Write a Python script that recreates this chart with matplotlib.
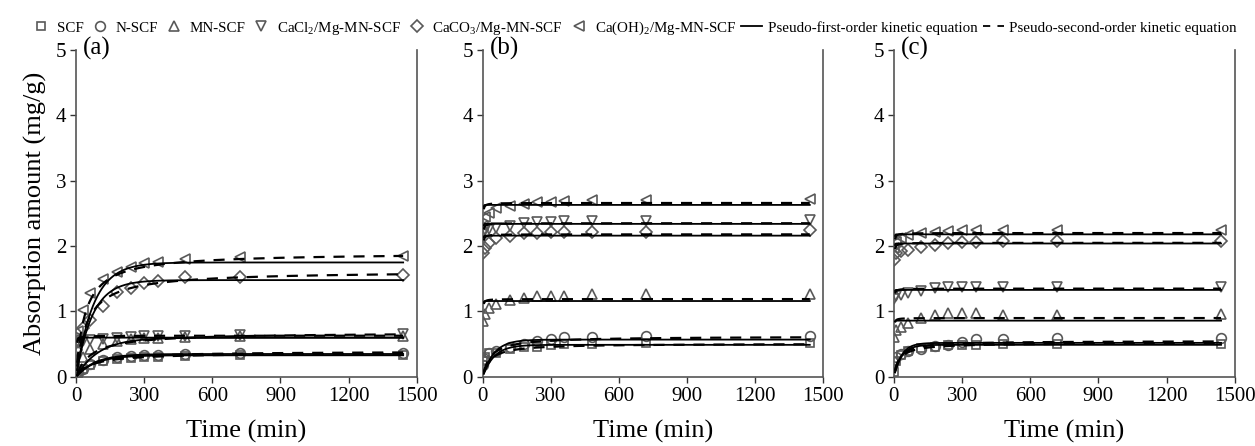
import numpy as np
import matplotlib
matplotlib.use("Agg")
import matplotlib.pyplot as plt
from matplotlib.lines import Line2D

plt.rcParams['font.family'] = ['Liberation Serif', 'DejaVu Serif']
plt.rcParams['mathtext.fontset'] = 'custom'
plt.rcParams['mathtext.rm'] = 'Liberation Serif'

# ---------------- data ----------------
time = [0, 10, 30, 60, 120, 180, 240, 300, 360, 480, 720, 1440]

series_names = ["SCF", "N-SCF", "MN-SCF", "CaCl$_2$/Mg-MN-SCF",
                "CaCO$_3$/Mg-MN-SCF", "Ca(OH)$_2$/Mg-MN-SCF"]
panel_labels = ["(a)", "(b)", "(c)"]

# panel (a)
a_scf    = [0.00, 0.05, 0.12, 0.18, 0.24, 0.27, 0.29, 0.30, 0.31, 0.32, 0.33, 0.34]
a_nscf   = [0.00, 0.06, 0.12, 0.20, 0.26, 0.30, 0.32, 0.33, 0.34, 0.35, 0.36, 0.37]
a_mnscf  = [0.02, 0.15, 0.30, 0.42, 0.50, 0.55, 0.58, 0.59, 0.60, 0.61, 0.62, 0.63]
a_cacl2  = [0.50, 0.52, 0.55, 0.57, 0.58, 0.60, 0.61, 0.62, 0.62, 0.63, 0.64, 0.65]
a_caco3  = [0.41, 0.55, 0.74, 0.87, 1.08, 1.30, 1.36, 1.43, 1.46, 1.52, 1.52, 1.56]
a_caoh2  = [0.03, 0.70, 1.03, 1.28, 1.50, 1.60, 1.68, 1.74, 1.76, 1.80, 1.84, 1.85]

# panel (b)
b_scf    = [0.25, 0.30, 0.36, 0.37, 0.42, 0.45, 0.46, 0.49, 0.50, 0.51, 0.52, 0.52]
b_nscf   = [0.18, 0.28, 0.36, 0.40, 0.46, 0.50, 0.55, 0.58, 0.61, 0.61, 0.62, 0.62]
b_mnscf  = [0.85, 0.96, 1.05, 1.12, 1.18, 1.20, 1.23, 1.24, 1.24, 1.26, 1.26, 1.26]
b_cacl2  = [2.20, 2.25, 2.26, 2.28, 2.30, 2.35, 2.37, 2.37, 2.38, 2.39, 2.39, 2.40]
b_caco3  = [1.90, 1.97, 2.05, 2.12, 2.16, 2.20, 2.20, 2.22, 2.22, 2.22, 2.22, 2.25]
b_caoh2  = [2.30, 2.45, 2.50, 2.58, 2.62, 2.65, 2.67, 2.68, 2.69, 2.70, 2.70, 2.72]

# panel (c)
c_scf    = [0.08, 0.25, 0.34, 0.40, 0.44, 0.46, 0.48, 0.48, 0.48, 0.50, 0.50, 0.50]
c_nscf   = [0.23, 0.31, 0.35, 0.39, 0.42, 0.47, 0.49, 0.54, 0.58, 0.58, 0.59, 0.59]
c_mnscf  = [0.61, 0.72, 0.77, 0.82, 0.90, 0.95, 0.97, 0.98, 0.98, 0.95, 0.95, 0.96]
c_cacl2  = [1.19, 1.23, 1.25, 1.28, 1.32, 1.36, 1.37, 1.38, 1.38, 1.37, 1.37, 1.37]
c_caco3  = [1.79, 1.89, 1.92, 1.94, 1.99, 2.02, 2.05, 2.06, 2.07, 2.08, 2.08, 2.08]
c_caoh2  = [1.97, 2.07, 2.12, 2.17, 2.20, 2.22, 2.23, 2.24, 2.24, 2.24, 2.24, 2.25]

# fitted kinetic parameters (qe in mg/g, k1 in 1/min, k2 in g/(mg min))
a_pfo_qe = [0.33, 0.35, 0.60, 0.60, 1.48, 1.75]
a_pfo_k1 = [0.012, 0.012, 0.010, 0.50, 0.014, 0.013]
a_pso_qe = [0.37, 0.39, 0.68, 0.63, 1.62, 1.90]
a_pso_k2 = [0.040, 0.040, 0.022, 1.50, 0.0133, 0.0135]

b_pfo_qe = [0.49, 0.57, 1.16, 2.34, 2.16, 2.63]
b_pfo_k1 = [0.020, 0.020, 0.80, 0.90, 0.90, 0.90]
b_pso_qe = [0.51, 0.62, 1.19, 2.35, 2.18, 2.66]
b_pso_k2 = [0.060, 0.045, 2.50, 2.00, 2.00, 2.00]

c_pfo_qe = [0.49, 0.52, 0.86, 1.33, 2.04, 2.18]
c_pfo_k1 = [0.030, 0.030, 0.80, 0.90, 0.90, 0.90]
c_pso_qe = [0.52, 0.55, 0.90, 1.35, 2.05, 2.20]
c_pso_k2 = [0.080, 0.080, 3.00, 2.50, 2.00, 2.00]

panels = [
    ([a_scf, a_nscf, a_mnscf, a_cacl2, a_caco3, a_caoh2], a_pfo_qe, a_pfo_k1, a_pso_qe, a_pso_k2),
    ([b_scf, b_nscf, b_mnscf, b_cacl2, b_caco3, b_caoh2], b_pfo_qe, b_pfo_k1, b_pso_qe, b_pso_k2),
    ([c_scf, c_nscf, c_mnscf, c_cacl2, c_caco3, c_caoh2], c_pfo_qe, c_pfo_k1, c_pso_qe, c_pso_k2),
]

markers = ['s', 'o', '^', 'v', 'D', '<']
msizes = [5.5, 7, 7.5, 7.5, 6.5, 7.5]
mcolor = '#595959'

fig = plt.figure(figsize=(12.55, 4.46), dpi=100)
lefts = [0.0606, 0.3846, 0.7123]
width = 0.2715
bottom = 0.155
height = 0.733

tfit = np.linspace(5, 1440, 1500)

axes = []
for i, (series, pq, pk, sq, sk) in enumerate(panels):
    ax = fig.add_axes([lefts[i], bottom, width, height])
    axes.append(ax)
    for j, ys in enumerate(series):
        ax.plot(time, ys, linestyle='none', marker=markers[j], markersize=msizes[j],
                markerfacecolor='none', markeredgecolor=mcolor, markeredgewidth=1.2,
                zorder=3)
    for j in range(len(series)):
        q1 = pq[j] * (1 - np.exp(-pk[j] * tfit))
        ax.plot(tfit, q1, color='black', lw=1.3, zorder=4)
        q2 = sk[j] * sq[j] ** 2 * tfit / (1 + sk[j] * sq[j] * tfit)
        ax.plot(tfit, q2, color='black', lw=1.6, linestyle=(0, (5, 4)), zorder=4)
    ax.set_xlim(0, 1500)
    ax.set_ylim(0, 5)
    ax.set_xticks([0, 300, 600, 900, 1200, 1500])
    ax.set_yticks([0, 1, 2, 3, 4, 5])
    ax.tick_params(axis='both', labelsize=15, direction='out', length=4,
                   width=1, colors='#333333', labelcolor='black', pad=3)
    for s in ['left', 'bottom', 'right']:
        ax.spines[s].set_color('#555555')
        ax.spines[s].set_linewidth(1.2)
    ax.spines['top'].set_visible(False)
    ax.set_xlabel('Time (min)', fontsize=19, labelpad=10)
    ax.text(0.02, 1.005, panel_labels[i], transform=ax.transAxes, fontsize=18,
            va='center', ha='left')

axes[0].set_ylabel('Absorption amount (mg/g)', fontsize=19, labelpad=6)

handles = []
for j in range(6):
    handles.append(Line2D([], [], linestyle='none', marker=markers[j], markersize=msizes[j],
                          markerfacecolor='none', markeredgecolor=mcolor, markeredgewidth=1.2))
handles.append(Line2D([], [], color='black', lw=1.3))
handles.append(Line2D([], [], color='black', lw=1.3, linestyle=(0, (4, 4))))
labels = series_names + ['Pseudo-first-order kinetic equation',
                         'Pseudo-second-order kinetic equation']
fig.legend(handles, labels, loc='center', bbox_to_anchor=(0.505, 0.937), ncol=8,
           frameon=False, fontsize=10.8, handlelength=1.4, handletextpad=0.35,
           columnspacing=0.35, borderaxespad=0)

fig.savefig('out.png', dpi=100)
